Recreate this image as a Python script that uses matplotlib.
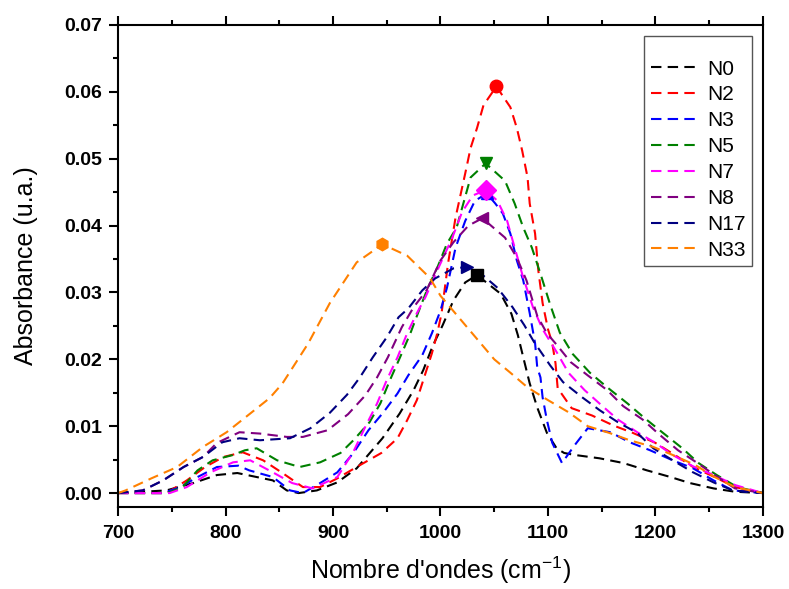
import matplotlib.pyplot as plt
from matplotlib.ticker import MultipleLocator, FormatStrFormatter

plt.rcParams['font.family'] = ['Liberation Sans', 'DejaVu Sans']
plt.rcParams['mathtext.fontset'] = 'custom'
plt.rcParams['mathtext.rm'] = 'Liberation Sans'

# spectra (wavenumber in cm-1, absorbance)
n0_x = [700, 745, 770, 792, 811, 829, 844, 857, 868, 885, 904, 922, 946, 962, 975, 984, 993, 1002, 1012, 1023, 1034,
        1056, 1066, 1072, 1077, 1083, 1090, 1099, 1108, 1115, 1125, 1148, 1170, 1192, 1214, 1232, 1254, 1274, 1300]
n0_y = [0, 0.0004, 0.0015, 0.0027, 0.0030, 0.0024, 0.0019, 0.0004, 0, 0.0004, 0.0016, 0.0037, 0.0082, 0.0119, 0.0154,
        0.0184, 0.0221, 0.0251, 0.0288, 0.0315, 0.0326,
        0.0298, 0.0268, 0.0236, 0.0203, 0.0164, 0.0128, 0.0090, 0.0067, 0.0060, 0.0057, 0.0052, 0.0045, 0.0034, 0.0024,
        0.0015, 0.0007, 0.0002, 0]

n2_x = [700, 745, 764, 781, 798, 816, 835, 853, 872, 888, 904, 922, 945, 960, 969, 978, 984, 992, 997, 1001, 1007,
        1014, 1023, 1028, 1034, 1040, 1052, 1065, 1071, 1076, 1081, 1083, 1088, 1091, 1095, 1100, 1104, 1107, 1109,
        1122, 1141, 1161, 1179, 1200, 1218, 1235, 1255, 1274, 1300]
n2_y = [0, 0, 0.0019, 0.0039, 0.0054, 0.0061, 0.0049, 0.0030, 0.0009, 0.0009, 0.0022, 0.0039, 0.0060, 0.0082,
        0.0109, 0.0139, 0.0169, 0.0209, 0.0239, 0.0269, 0.0343,
        0.0412, 0.0478, 0.0516, 0.0546, 0.0580, 0.0608, 0.0577, 0.0546, 0.0512, 0.0472, 0.0433, 0.0388, 0.0333,
        0.0284, 0.0245, 0.0224, 0.0194, 0.0157,
        0.0127, 0.0116, 0.0101, 0.0090, 0.0075, 0.0057, 0.0039, 0.0024, 0.0009, 0]

n3_x = [700, 742, 758, 774, 792, 812, 822, 844, 860, 872, 888, 904, 919, 933, 947, 960, 970, 983, 992, 1000, 1006,
        1014, 1023, 1032, 1043, 1051, 1058, 1065, 1071, 1077, 1083, 1088, 1090, 1093, 1095, 1099, 1104, 1113,
        1125, 1137, 1158, 1176, 1195, 1216, 1235, 1254, 1272, 1300]
n3_y = [0, 0, 0.0009, 0.0024, 0.0039, 0.0041, 0.0034, 0.0024, 0.0004, 0, 0.0015, 0.0031, 0.0060, 0.0094, 0.0121,
        0.0149, 0.0176, 0.0206, 0.0239, 0.0273, 0.0307,
        0.0367, 0.0407, 0.0437, 0.0448, 0.0433, 0.0418, 0.0388, 0.0348, 0.0318, 0.0269, 0.0224, 0.0188, 0.0173,
        0.0143, 0.0109, 0.0075, 0.0045,
        0.0072, 0.0097, 0.0091, 0.0076, 0.0064, 0.0049, 0.0037, 0.0019, 0.0004, 0]

n5_x = [700, 746, 760, 774, 788, 807, 818, 829, 848, 869, 888, 907, 919, 934, 944, 953, 964, 972, 979, 988, 997,
        1006, 1015, 1028, 1042, 1060, 1069, 1077, 1085, 1093, 1102, 1111, 1123, 1139, 1156, 1174, 1190, 1207, 1225,
        1240, 1257, 1276, 1300]
n5_y = [0, 0, 0.0009, 0.0034, 0.0049, 0.0057, 0.0064, 0.0067, 0.0049, 0.0039, 0.0046, 0.0060, 0.0079, 0.0106,
        0.0134, 0.0169, 0.0209, 0.0239, 0.0269, 0.0306, 0.0337,
        0.0373, 0.0397, 0.0472, 0.0493, 0.0467, 0.0433, 0.0397, 0.0367, 0.0328, 0.0282, 0.0240, 0.0208, 0.0180,
        0.0157, 0.0134, 0.0112, 0.0090, 0.0067,
        0.0045, 0.0027, 0.0009, 0]

n7_x = [700, 748, 764, 786, 807, 823, 844, 862, 881, 904, 919, 930, 941, 950, 960, 969, 978, 986, 999, 1011, 1020,
        1030, 1042, 1053, 1062, 1069, 1077, 1086, 1095, 1108, 1119, 1134, 1150, 1165, 1183, 1200, 1216, 1235, 1254,
        1274, 1300]
n7_y = [0, 0, 0.0009, 0.0031, 0.0046, 0.0049, 0.0031, 0.0015, 0.0007, 0.0024, 0.0062, 0.0099, 0.0134, 0.0169,
        0.0203, 0.0239, 0.0269, 0.0293, 0.0340, 0.0382, 0.0420,
        0.0445, 0.0453, 0.0437, 0.0407, 0.0367, 0.0322, 0.0278, 0.0245, 0.0211, 0.0180, 0.0154, 0.0131, 0.0110,
        0.0091, 0.0075, 0.0057, 0.0040, 0.0027,
        0.0012, 0]

n8_x = [700, 723, 742, 761, 779, 792, 813, 832, 857, 872, 895, 914, 930, 941, 951, 964, 975, 987, 1000, 1012, 1026,
        1039, 1060, 1071, 1080, 1090, 1099, 1109, 1121, 1137, 1155, 1170, 1188, 1204, 1221, 1239, 1255, 1274, 1300]
n8_y = [0, 0.0004, 0.0019, 0.0039, 0.0054, 0.0075, 0.0091, 0.0089, 0.0084, 0.0084, 0.0094, 0.0118, 0.0146, 0.0173,
        0.0203, 0.0248, 0.0278, 0.0303, 0.0348, 0.0375, 0.0400,
        0.0411, 0.0382, 0.0352, 0.0318, 0.0265, 0.0239, 0.0220, 0.0196, 0.0176, 0.0154, 0.0130, 0.0110, 0.0087,
        0.0064, 0.0045, 0.0027, 0.0007, 0]

n17_x = [700, 723, 742, 761, 779, 797, 813, 832, 860, 879, 897, 913, 925, 937, 950, 961, 970, 983, 995, 1012, 1025,
         1040, 1053, 1067, 1078, 1087, 1102, 1114, 1132, 1148, 1165, 1183, 1198, 1216, 1235, 1254, 1272, 1300]
n17_y = [0, 0.0004, 0.0019, 0.0039, 0.0054, 0.0076, 0.0082, 0.0079, 0.0082, 0.0097, 0.0120, 0.0147, 0.0173, 0.0203,
         0.0233, 0.0263, 0.0276, 0.0303, 0.0321, 0.0336, 0.0338,
         0.0325, 0.0307, 0.0278, 0.0251, 0.0226, 0.0191, 0.0166, 0.0143, 0.0124, 0.0106, 0.0090, 0.0067, 0.0049,
         0.0031, 0.0016, 0.0004, 0]

n33_x = [700, 707, 731, 755, 779, 801, 823, 841, 853, 877, 897, 922, 946, 969, 990, 1000, 1050, 1065, 1081, 1100,
         1119, 1137, 1157, 1176, 1198, 1216, 1237, 1255, 1274, 1300]
n33_y = [0, 0.0004, 0.0022, 0.0039, 0.0069, 0.0091, 0.0119, 0.0142, 0.0164, 0.0224, 0.0284, 0.0345, 0.0372, 0.0355,
         0.0322, 0.0295, 0.0200, 0.0180, 0.0158, 0.0139,
         0.0121, 0.0100, 0.0090, 0.0079, 0.0069, 0.0057, 0.0042, 0.0024, 0.0009, 0]

names = ['N0', 'N2', 'N3', 'N5', 'N7', 'N8', 'N17', 'N33']
xs = [n0_x, n2_x, n3_x, n5_x, n7_x, n8_x, n17_x, n33_x]
ys = [n0_y, n2_y, n3_y, n5_y, n7_y, n8_y, n17_y, n33_y]
colors = ['black', 'red', 'blue', 'green', 'magenta', 'purple', 'navy', '#FF8000']
markers = ['s', 'o', '^', 'v', 'D', '<', '>', 'h']

fig = plt.figure(figsize=(7.89, 5.89), dpi=100)
ax = fig.add_axes([0.1496, 0.139, 0.8174, 0.8186])

for name, x, y, c, m in zip(names, xs, ys, colors, markers):
    ax.plot(x, y, color=c, lw=1.5, ls=(0, (5, 3)), label=name)
    # peak marker only
    k = y.index(max(y))
    ax.plot([x[k]], [y[k]], ls='none', marker=m, color=c, ms=10 if m == 'D' else 9, zorder=3)

ax.set_xlim(700, 1300)
ax.set_ylim(-0.0021, 0.07)
ax.xaxis.set_major_locator(MultipleLocator(100))
ax.xaxis.set_minor_locator(MultipleLocator(50))
ax.yaxis.set_major_locator(MultipleLocator(0.01))
ax.yaxis.set_minor_locator(MultipleLocator(0.005))
ax.yaxis.set_major_formatter(FormatStrFormatter('%.2f'))
ax.tick_params(which='both', direction='out', top=True, right=False, width=1.5)
ax.tick_params(which='major', length=6.5, labelsize=14, pad=5)
ax.tick_params(axis='x', which='major', pad=6.5)
ax.tick_params(which='minor', length=3.5)
for lab in ax.get_xticklabels() + ax.get_yticklabels():
    lab.set_fontweight('bold')
for s in ax.spines.values():
    s.set_linewidth(1.5)

ax.set_xlabel("Nombre d'ondes (cm$^{-1}$)", fontsize=18, labelpad=9)
ax.set_ylabel('Absorbance (u.a.)', fontsize=18, labelpad=19)

leg = ax.legend(loc='upper right', fontsize=15, handlelength=2.4, handletextpad=0.3, labelspacing=0.33,
                borderaxespad=0.55, fancybox=False, framealpha=1, borderpad=0.3,
                title=' ', title_fontsize=8)
leg.get_frame().set_edgecolor('#555555')
leg.get_frame().set_linewidth(1.0)

fig.savefig('out.png', dpi=100)
